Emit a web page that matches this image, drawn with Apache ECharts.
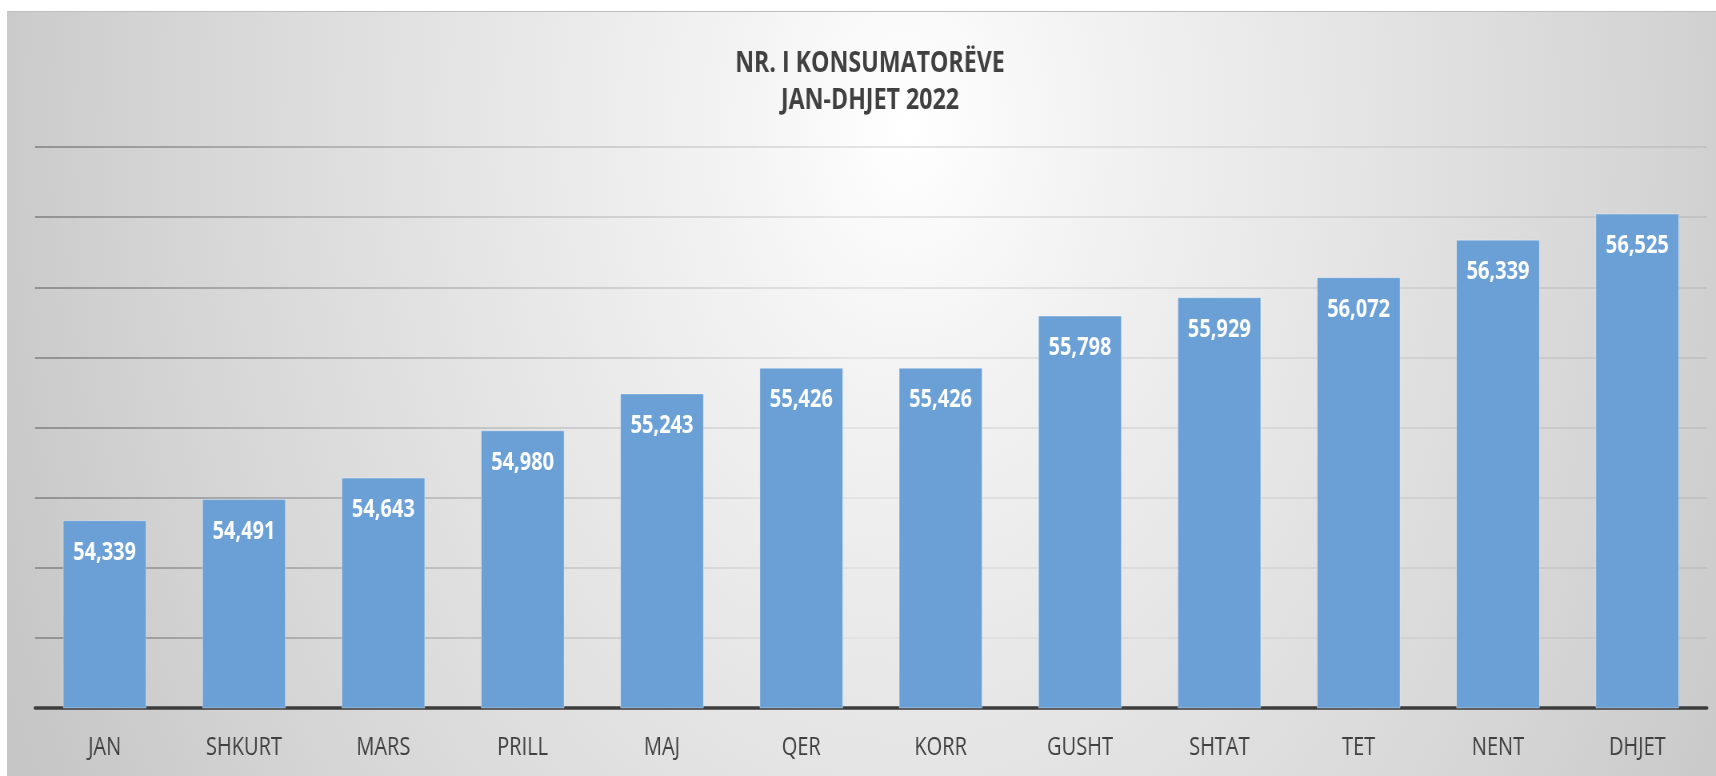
<!DOCTYPE html>
<html>
<head>
<meta charset="utf-8">
<script src="https://cdn.jsdelivr.net/npm/echarts@6/dist/echarts.min.js"></script>
<style>
  html, body { margin: 0; padding: 0; background: #ffffff; width: 1716px; height: 776px; overflow: hidden; }
  #bg {
    position: absolute; left: 7px; top: 11px; width: 1709px; height: 765px;
    border-top: 1px solid #bdbdbd;
    background: radial-gradient(ellipse 980px 1400px at 900px 115px, #ffffff 0%, #f3f3f3 18%, #e5e5e5 45%, #d5d5d5 75%, #c6c6c6 100%);
  }
  /* the original picture is vertically stretched: draw wider, then compress horizontally */
  #chart { position: absolute; left: 0; top: 0; width: 2145px; height: 776px; transform: scaleX(0.8); transform-origin: 0 0; }
</style>
</head>
<body>
<div id="bg"></div>
<div id="chart"></div>
<script>
const titleLines = ['NR. I KONSUMATORËVE', 'JAN-DHJET 2022'];
const categories = ['JAN', 'SHKURT', 'MARS', 'PRILL', 'MAJ', 'QER', 'KORR', 'GUSHT', 'SHTAT', 'TET', 'NENT', 'DHJET'];
const consumers = [54339, 54491, 54643, 54980, 55243, 55426, 55426, 55798, 55929, 56072, 56339, 56525];
const yMin = 53000, yMax = 57000, yStep = 500;

const FONT = "'Open Sans', 'Noto Sans', sans-serif";
const SX = 0.8;

const chart = echarts.init(document.getElementById('chart'), null, { renderer: 'canvas' });
chart.setOption({
  backgroundColor: 'transparent',
  animation: false,
  title: {
    text: titleLines.join('\n'),
    left: 866 / SX,
    top: 40,
    textAlign: 'center',
    textStyle: { fontFamily: FONT, fontSize: 29, fontWeight: 'bold', color: '#404040', lineHeight: 37 }
  },
  grid: { left: 35 / SX, right: 9 / SX, top: 147, bottom: 68, containLabel: false },
  xAxis: {
    type: 'category',
    data: categories,
    axisLine: { show: true, lineStyle: { color: '#3c3c3c', width: 3.5 } },
    axisTick: { show: false },
    axisLabel: { fontFamily: FONT, fontSize: 25, color: '#404040', margin: 27 },
    splitLine: { show: false }
  },
  yAxis: {
    type: 'value',
    min: yMin, max: yMax, interval: yStep,
    axisLine: { show: false },
    axisTick: { show: false },
    axisLabel: { show: false },
    splitLine: {
      show: true,
      lineStyle: {
        width: 2,
        color: {
          type: 'linear', x: 0, y: 0, x2: 2145, y2: 0, global: true,
          colorStops: [
            { offset: 0, color: '#8e8e8e' },
            { offset: 0.3, color: '#c8c8c8' },
            { offset: 0.5, color: '#e4e4e4' },
            { offset: 0.75, color: '#d8d8d8' },
            { offset: 1, color: '#c2c2c2' }
          ]
        }
      }
    }
  },
  series: [{
    type: 'bar',
    data: consumers,
    barWidth: '60%',
    itemStyle: { color: '#6aa0d6', borderColor: 'rgba(255,255,255,0.35)', borderWidth: 1 },
    label: {
      show: true,
      position: 'insideTop',
      distance: 20,
      fontFamily: FONT,
      fontSize: 25,
      fontWeight: 'bold',
      color: '#ffffff',
      formatter: p => p.value.toLocaleString('en-US')
    }
  }]
});
</script>
</body>
</html>
